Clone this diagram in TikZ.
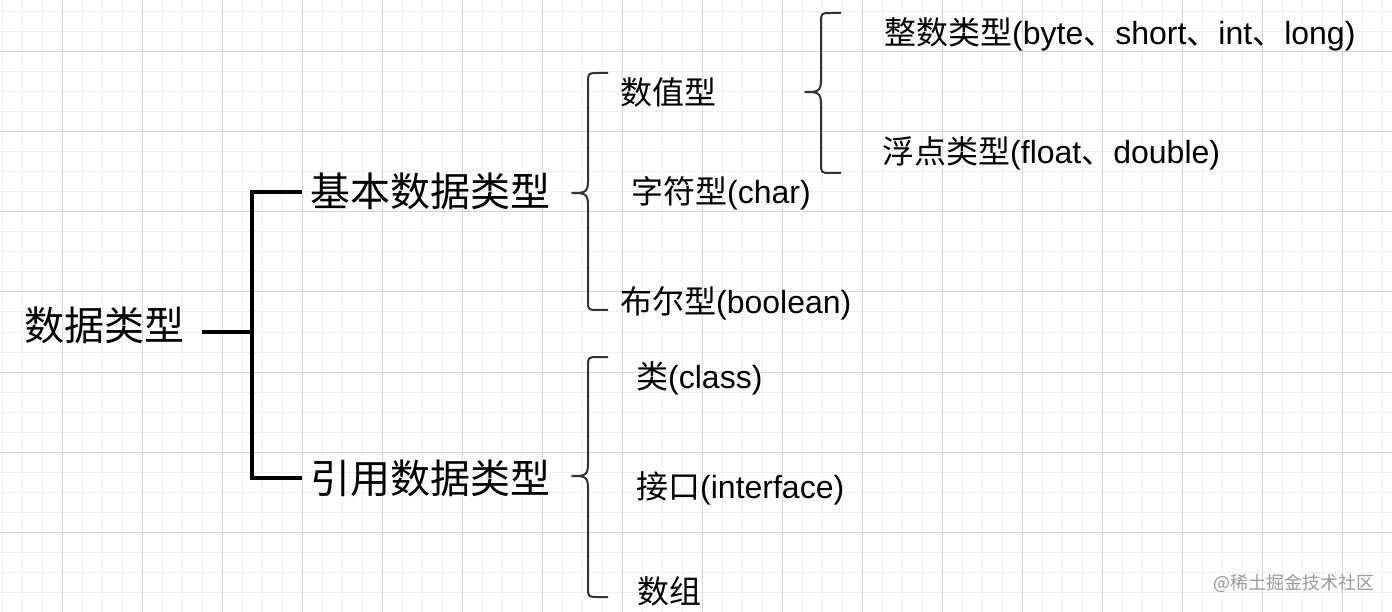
\documentclass[tikz,border=0pt]{standalone}
\usepackage{fontspec}
\setmainfont{Liberation Sans}
\newfontfamily\cjk{Noto Sans CJK SC}
\newcommand\C[1]{{\cjk #1}}
\definecolor{minorgrid}{HTML}{EFEFEF}
\definecolor{majorgrid}{HTML}{D6D6D6}
\definecolor{bracecol}{HTML}{333333}
\definecolor{wmcol}{HTML}{9A9A9A}
\tikzset{
  big/.style={anchor=west,inner sep=0pt,font=\fontsize{40}{48}\selectfont,text height=33pt,text depth=3pt},
  leaf/.style={anchor=west,inner sep=0pt,font=\fontsize{32}{38}\selectfont,text height=26.5pt,text depth=2.5pt},
  bar/.style={line width=4pt,black},
  bracepath/.style={line width=2pt,bracecol,line join=round}
}
\newcommand\mybrace[4]{% tip x, top y, mid y, bottom y
  \draw[bracepath] (#1+36,#2) -- (#1+26,#2) .. controls (#1+16,#2) .. (#1+16,#2+10)
    -- (#1+16,#3-12) .. controls (#1+16,#3) and (#1+12,#3) .. (#1,#3)
    .. controls (#1+12,#3) and (#1+16,#3) .. (#1+16,#3+12)
    -- (#1+16,#4-10) .. controls (#1+16,#4) .. (#1+26,#4) -- (#1+36,#4);}
\begin{document}
\begin{tikzpicture}[x=1pt,y=-1pt]
\useasboundingbox (0,0) rectangle (1392,612);
\fill[white] (0,0) rectangle (1392,612);
\foreach \x in {2,22,...,1390} \draw[minorgrid,line width=1pt] (\x,0) -- (\x,612);
\foreach \y in {12,32,...,610} \draw[minorgrid,line width=1pt] (0,\y) -- (1392,\y);
\foreach \x in {62,142,...,1390} \draw[majorgrid,line width=1pt] (\x,0) -- (\x,612);
\foreach \y in {52,132,...,610} \draw[majorgrid,line width=1pt] (0,\y) -- (1392,\y);

\node[big] (root) at (24,325) {\C{数据类型}};
\node[big] (jb) at (310,192) {\C{基本数据类型}};
\node[big] (yy) at (310,478) {\C{引用数据类型}};

\node[leaf] (sz) at (620,93) {\C{数值型}};
\node[leaf] (zf) at (631,192) {\C{字符型}(char)};
\node[leaf] (be) at (620,301) {\C{布尔型}(boolean)};
\node[leaf] (zs) at (884,33) {\C{整数类型}(byte\C{、}short\C{、}int\C{、}long)};
\node[leaf] (fd) at (882,152) {\C{浮点类型}(float\C{、}double)};
\node[leaf] (lei) at (636,376) {\C{类}(class)};
\node[leaf] (jk) at (636,486) {\C{接口}(interface)};
\node[leaf] (sg) at (637,591) {\C{数组}};

\coordinate (sp) at (252,332);
\coordinate (rs) at (202,332);
\draw[bar] (rs) -- (sp);
\draw[bar] ([xshift=-8pt]jb.west) -| (sp) |- ([xshift=-8pt]yy.west);

\mybrace{572}{73}{193}{310}
\mybrace{805}{13}{92}{173}
\mybrace{572}{357}{476}{597}

\node[anchor=west,inner sep=0pt,font=\cjk\fontsize{18}{22}\selectfont,text=wmcol] (wm) at (1213,583) {@稀土掘金技术社区};
\end{tikzpicture}
\end{document}
